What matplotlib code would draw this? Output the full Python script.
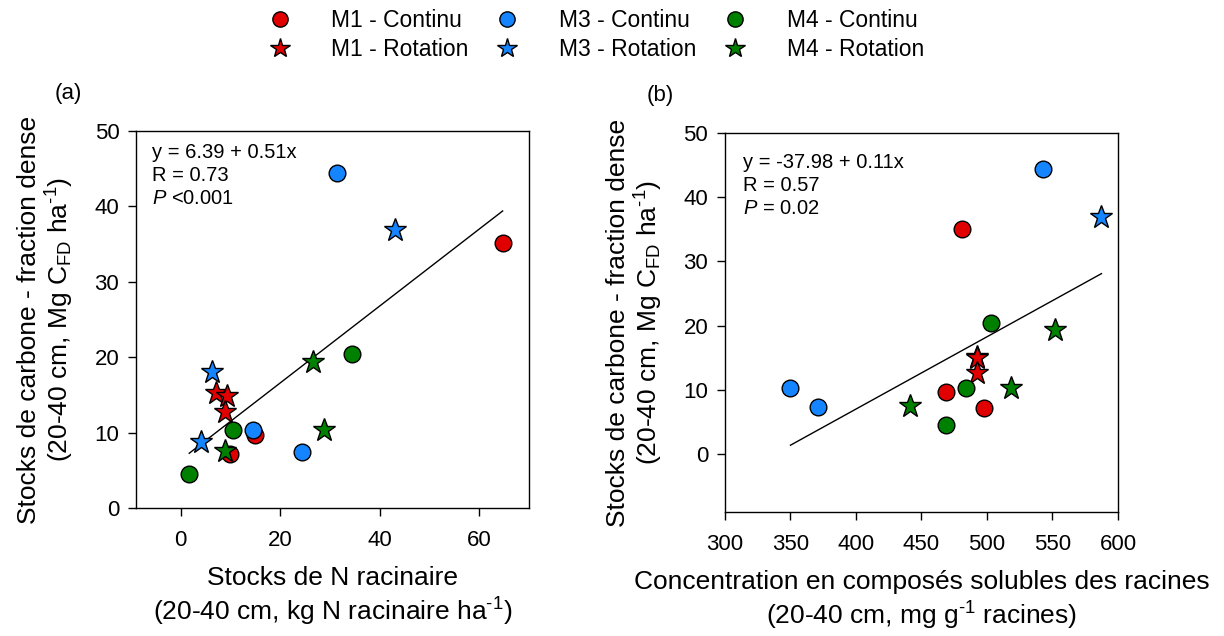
import matplotlib
matplotlib.use("Agg")
import matplotlib.pyplot as plt
from matplotlib.lines import Line2D
import numpy as np

plt.rcParams['font.family'] = ['Liberation Sans', 'DejaVu Sans']
plt.rcParams['mathtext.fontset'] = 'custom'
plt.rcParams['mathtext.rm'] = 'Liberation Sans'
plt.rcParams['mathtext.it'] = 'Liberation Sans:italic'

# ---- data -----------------------------------------------------------------
# Carbon stock in the dense fraction (Mg C ha-1), 20-40 cm
# Root N stock (kg N ha-1) and root soluble compounds (mg g-1)
m1_cont_c = [35.1, 9.7, 7.2]
m1_cont_n = [64.7, 15.0, 9.8]
m1_cont_sol = [480.8, 468.9, 498.0]

m3_cont_c = [44.4, 10.3, 7.4]
m3_cont_n = [31.5, 14.5, 24.3]
m3_cont_sol = [542.4, 350.0, 371.2]

m4_cont_c = [20.4, 10.3, 4.5]
m4_cont_n = [34.5, 10.5, 1.7]
m4_cont_sol = [503.0, 483.6, 468.7]

m1_rot_c = [15.2, 14.9, 12.7]
m1_rot_n = [7.1, 9.3, 8.9]
m1_rot_sol = [492.0, 492.3, 492.7]

m3_rot_c = [36.9, 18.0, 8.8]
m3_rot_n = [43.0, 6.3, 4.0]
m3_rot_sol = [587.4, np.nan, np.nan]

m4_rot_c = [19.3, 10.3, 7.5]
m4_rot_n = [26.5, 28.7, 8.8]
m4_rot_sol = [552.0, 518.7, 440.9]

# regression coefficients (intercept, slope) and statistics
fit_a = [6.39, 0.51]
fit_b = [-37.98, 0.1125]
stats_a = ["R = 0.73", "$\\it{P}$ <0.001"]
stats_b = ["R = 0.57", "$\\it{P}$ = 0.02"]

legend_labels = ["M1 - Continu", "M1 - Rotation", "M3 - Continu",
                 "M3 - Rotation", "M4 - Continu", "M4 - Rotation"]

RED, BLUE, GREEN = "#e00000", "#1484ff", "#008000"

series = [
    (m1_cont_n, m1_cont_sol, m1_cont_c, RED, "o"),
    (m1_rot_n, m1_rot_sol, m1_rot_c, RED, "*"),
    (m3_cont_n, m3_cont_sol, m3_cont_c, BLUE, "o"),
    (m3_rot_n, m3_rot_sol, m3_rot_c, BLUE, "*"),
    (m4_cont_n, m4_cont_sol, m4_cont_c, GREEN, "o"),
    (m4_rot_n, m4_rot_sol, m4_rot_c, GREEN, "*"),
]

fig = plt.figure(figsize=(12.24, 6.36), dpi=100)
ax_a = fig.add_axes([0.1111, 0.2013, 0.3211, 0.5928])
ax_b = fig.add_axes([0.5923, 0.1950, 0.3211, 0.5960])

TICK_FS = 16
LABEL_FS = 19
EQ_FS = 14.5
HY = "\u2010"  # typographic hyphen used in the superscripts


def draw(ax, xi, fit, stats, xlim, ylim, xticks, eq_xy):
    allx = []
    for s in series:
        x = np.asarray(s[xi], dtype=float)
        y = np.asarray(s[2], dtype=float)
        ok = ~np.isnan(x)
        allx.extend(x[ok])
        ms = 12 if s[4] == "o" else 17
        ax.plot(x[ok], y[ok], linestyle="none", marker=s[4], ms=ms,
                mfc=s[3], mec="black", mew=1.0, zorder=3)
    xs = np.array([min(allx), max(allx)])
    ax.plot(xs, fit[0] + fit[1] * xs, color="black", lw=1.0, zorder=2)
    sign = "+" if fit[1] >= 0 else "-"
    eq = f"y = {fit[0]:.2f} {sign} {abs(fit[1]):.2f}x"
    for i, line in enumerate([eq] + stats):
        ax.text(eq_xy[0], eq_xy[1] - i * 0.061, line, transform=ax.transAxes,
                fontsize=EQ_FS, va="center", ha="left")
    ax.set_xlim(*xlim)
    ax.set_ylim(*ylim)
    ax.set_xticks(xticks)
    ax.set_yticks([0, 10, 20, 30, 40, 50])
    ax.tick_params(direction="out", length=6, width=1.0,
                   labelsize=TICK_FS, top=False, right=False)
    ax.tick_params(axis="x", pad=10)
    ax.tick_params(axis="y", pad=6)
    for sp in ax.spines.values():
        sp.set_linewidth(1.0)
    ax.set_ylabel("Stocks de carbone - fraction dense\n"
                  "(20-40 cm, Mg C$_{\\mathrm{FD}}$ ha$^{\\mathrm{" + HY + "1}}$)",
                  fontsize=LABEL_FS, labelpad=13, linespacing=1.12)


draw(ax_a, 0, fit_a, stats_a, (-9, 70), (0, 50), [0, 20, 40, 60],
     (0.041, 0.942))
draw(ax_b, 1, fit_b, stats_b, (300, 600), (-9, 50),
     [300, 350, 400, 450, 500, 550, 600], (0.046, 0.923))

ax_a.set_xlabel("Stocks de N racinaire\n"
                "(20-40 cm, kg N racinaire ha$^{\\mathrm{" + HY + "1}}$)",
                fontsize=LABEL_FS, labelpad=11, linespacing=1.22)
ax_b.set_xlabel("Concentration en composés solubles des racines\n"
                "(20-40 cm, mg g$^{\\mathrm{" + HY + "1}}$ racines)",
                fontsize=LABEL_FS, labelpad=11, linespacing=1.22)

fig.text(68 / 1224, 1 - 93 / 636, "(a)", fontsize=TICK_FS, ha="center", va="center")
fig.text(660 / 1224, 1 - 95 / 636, "(b)", fontsize=TICK_FS, ha="center", va="center")

handles = []
for s, lab in zip(series, legend_labels):
    ms = 11 if s[4] == "o" else 15
    handles.append(Line2D([], [], linestyle="none", marker=s[4], ms=ms,
                          mfc=s[3], mec="black", mew=1.0, label=lab))
fig.legend(handles=handles, ncol=3, loc="upper center",
           bbox_to_anchor=(0.487, 1.011), frameon=False, fontsize=16.5,
           handlelength=1.0, handletextpad=1.75, columnspacing=1.2,
           labelspacing=0.28, borderpad=0.2)

fig.savefig("out.png", dpi=100)
